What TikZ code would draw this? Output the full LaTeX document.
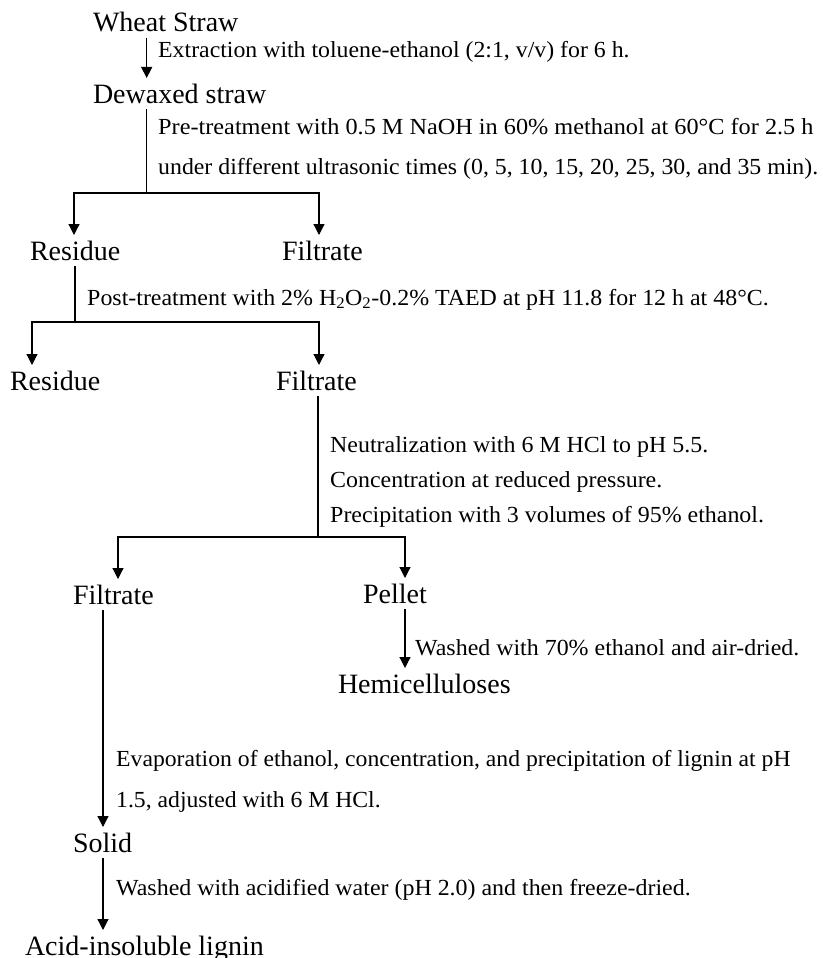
\documentclass[tikz,border=0pt]{standalone}
\usepackage{fontspec}
\usepackage{graphicx}
\setmainfont{Liberation Serif}
\usetikzlibrary{arrows.meta}
\newcommand\hstretch[2][1.04]{\scalebox{#1}[1]{#2}}
\begin{document}
\begin{tikzpicture}[x=1pt,y=-1pt,
  big/.style={inner sep=0pt, outer xsep=0pt, outer ysep=6pt, anchor=base west,
              text height=19pt, text depth=0pt, font=\fontsize{28}{32}\selectfont},
  sm/.style={inner sep=0pt, anchor=base west, font=\fontsize{23}{27}\selectfont},
  ln/.style={line width=1.2pt},
  arr/.style={ln, -{Triangle[width=11pt,length=11pt]}}]
\useasboundingbox (0,0) rectangle (822,958);

% main nodes
\node[big] (ws) at (93,32)  {Wheat Straw};
\node[big] (dw) at (93,103) {Dewaxed straw};
\node[big] (r1) at (30,260) {Residue};
\node[big] (f1) at (282,260) {Filtrate};
\node[big] (r2) at (10,390) {Residue};
\node[big] (f2) at (276,390) {Filtrate};
\node[big] (f3) at (73,604) {Filtrate};
\node[big] (pe) at (363,603) {Pellet};
\node[big] (he) at (338,693) {Hemicelluloses};
\node[big] (so) at (73,852) {Solid};
\node[big] (ai) at (25,955) {Acid-insoluble lignin};

% step descriptions
\node[sm] (t1)  at (158,58)  {\hstretch[1.035]{Extraction with toluene-ethanol (2:1, v/v) for 6 h.}};
\node[sm] (t2a) at (158,134) {\hstretch[1.055]{Pre-treatment with 0.5 M NaOH in 60\% methanol at 60°C for 2.5 h}};
\node[sm] (t2b) at (158,174) {\hstretch[1.035]{under different ultrasonic times (0, 5, 10, 15, 20, 25, 30, and 35 min).}};
\node[sm] (t3)  at (87,305)  {\hstretch{Post-treatment with 2\% H\textsubscript{2}O\textsubscript{2}-0.2\% TAED at pH 11.8 for 12 h at 48°C.}};
\node[sm] (t4a) at (330,452) {\hstretch{Neutralization with 6 M HCl to pH 5.5.}};
\node[sm] (t4b) at (330,487) {\hstretch{Concentration at reduced pressure.}};
\node[sm] (t4c) at (330,522) {\hstretch{Precipitation with 3 volumes of 95\% ethanol.}};
\node[sm] (t5)  at (415,655) {\hstretch{Washed with 70\% ethanol and air-dried.}};
\node[sm] (t6a) at (116,766) {\hstretch[1.03]{Evaporation of ethanol, concentration, and precipitation of lignin at pH}};
\node[sm] (t6b) at (116,807) {\hstretch[1.03]{1.5, adjusted with 6 M HCl.}};
\node[sm] (t7)  at (116,895) {\hstretch{Washed with acidified water (pH 2.0) and then freeze-dried.}};

% junction coordinates
\coordinate (j1)  at (146.7,193);
\coordinate (j1l) at (74,193);
\coordinate (j1r) at (319,193);
\coordinate (j2)  at (75,322);
\coordinate (j2l) at (32,322);
\coordinate (j2r) at (319,322);
\coordinate (j3)  at (318,537);
\coordinate (j3l) at (118,537);
\coordinate (j3r) at (405,537);
\coordinate (k6)  at (103,700);

% connectors
\draw[arr] (ws.south -| j1) -- (dw.north -| j1);
\draw[ln]  (dw.south -| j1) -- (j1);
\draw[arr] (j1) -- (j1l) -- (j1l |- r1.north);
\draw[arr] (j1) -- (j1r) -- (j1r |- f1.north);

\draw[ln]  (r1.south -| j2) -- (j2);
\draw[arr] (j2) -- (j2l) -- (j2l |- r2.north);
\draw[arr] (j2) -- (j2r) -- (j2r |- f2.north);

\draw[ln]  (f2.south -| j3) -- (j3);
\draw[arr] (j3) -- (j3l) -- (j3l |- f3.north);
\draw[arr] (j3) -- (j3r) -- (j3r |- pe.north);

\draw[arr] (pe.south -| j3r) -- (he.north -| j3r);
\draw[arr] (f3.south -| k6) -- (so.north -| k6);
\draw[arr] (so.south -| k6) -- (ai.north -| k6);
\end{tikzpicture}
\end{document}
